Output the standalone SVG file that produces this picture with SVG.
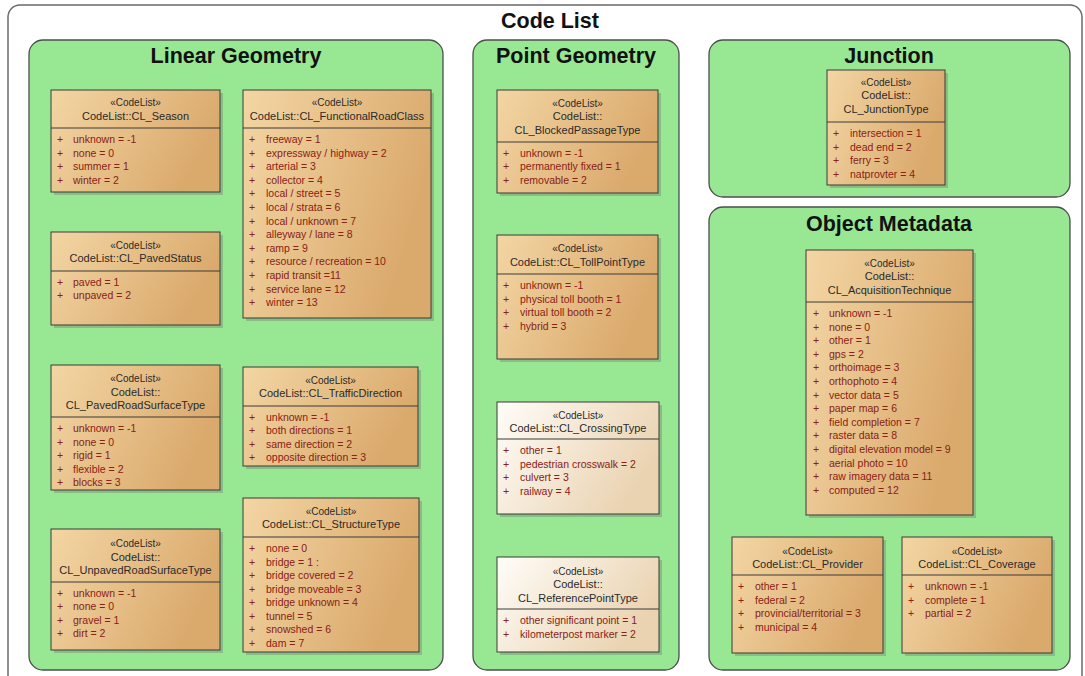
<svg xmlns="http://www.w3.org/2000/svg" width="1085" height="676" viewBox="0 0 1085 676">
<defs>
<linearGradient id="tan" x1="0" y1="0" x2="1" y2="0.35">
<stop offset="0" stop-color="#f3d6a4"/>
<stop offset="1" stop-color="#daa96c"/>
</linearGradient>
<linearGradient id="cream" x1="0" y1="0" x2="1" y2="0.45">
<stop offset="0" stop-color="#fffdf9"/>
<stop offset="1" stop-color="#ead3b1"/>
</linearGradient>
<style>
.frame{fill:#ffffff;stroke:#6a6a6a;stroke-width:1.5}
.panel{fill:#98e893;stroke:#4d4d4d;stroke-width:1.3}
.title{font-family:"Liberation Sans",Arial,sans-serif;font-weight:bold;font-size:21.5px;fill:#111;text-anchor:middle}
.shadow{fill:#6d6d6d;opacity:0.35}
.box{fill:url(#tan);stroke:#3a3a3a;stroke-width:1}
.cbox{fill:url(#cream);stroke:#3a3a3a;stroke-width:1}
.sep{stroke:#3a3a3a;stroke-width:1}
.st{font-family:"Liberation Sans",Arial,sans-serif;font-size:10px;fill:#2a2a2a;text-anchor:middle}
.nm{font-family:"Liberation Sans",Arial,sans-serif;font-size:11px;fill:#2a2a2a;text-anchor:middle}
.at{font-family:"Liberation Sans",Arial,sans-serif;font-size:10.5px;fill:#8a2016}
</style>
</defs>
<rect class="frame" x="8" y="5" width="1074" height="700" rx="12"/>
<text class="title" x="550" y="28">Code List</text>

<g id="panel-linear"><rect class="panel" x="29" y="40" width="414" height="630" rx="14"/><text class="title" x="236" y="63">Linear Geometry</text></g>
<g id="panel-point"><rect class="panel" x="473" y="40" width="206" height="630" rx="14"/><text class="title" x="576" y="63">Point Geometry</text></g>
<g id="panel-junction"><rect class="panel" x="709" y="40" width="361" height="157" rx="14"/><text class="title" x="889" y="63">Junction</text></g>
<g id="panel-metadata"><rect class="panel" x="709" y="207" width="361" height="463" rx="14"/><text class="title" x="889" y="231">Object Metadata</text></g>

<g id="connectors"/>

<g id="cl-season">
<rect class="shadow" x="54" y="93" width="169" height="102"/>
<rect class="box" x="51" y="90" width="169" height="102"/>
<line class="sep" x1="51" y1="128" x2="220" y2="128"/>
<text class="st" x="135.5" y="106">«CodeList»</text>
<text class="nm" x="135.5" y="120">CodeList::CL_Season</text>
<text class="at" y="143"><tspan x="57">+</tspan><tspan x="73">unknown = -1</tspan></text>
<text class="at" y="156.5"><tspan x="57">+</tspan><tspan x="73">none = 0</tspan></text>
<text class="at" y="170"><tspan x="57">+</tspan><tspan x="73">summer = 1</tspan></text>
<text class="at" y="183.5"><tspan x="57">+</tspan><tspan x="73">winter = 2</tspan></text>
</g>

<g id="cl-functionalroadclass">
<rect class="shadow" x="246" y="93" width="188" height="228"/>
<rect class="box" x="243" y="90" width="188" height="228"/>
<line class="sep" x1="243" y1="128" x2="431" y2="128"/>
<text class="st" x="337" y="106">«CodeList»</text>
<text class="nm" x="337" y="120">CodeList::CL_FunctionalRoadClass</text>
<text class="at" y="143"><tspan x="249">+</tspan><tspan x="266">freeway = 1</tspan></text>
<text class="at" y="156.6"><tspan x="249">+</tspan><tspan x="266">expressway / highway = 2</tspan></text>
<text class="at" y="170.2"><tspan x="249">+</tspan><tspan x="266">arterial = 3</tspan></text>
<text class="at" y="183.8"><tspan x="249">+</tspan><tspan x="266">collector = 4</tspan></text>
<text class="at" y="197.4"><tspan x="249">+</tspan><tspan x="266">local / street  = 5</tspan></text>
<text class="at" y="211"><tspan x="249">+</tspan><tspan x="266">local / strata = 6</tspan></text>
<text class="at" y="224.6"><tspan x="249">+</tspan><tspan x="266">local / unknown = 7</tspan></text>
<text class="at" y="238.2"><tspan x="249">+</tspan><tspan x="266">alleyway / lane = 8</tspan></text>
<text class="at" y="251.8"><tspan x="249">+</tspan><tspan x="266">ramp = 9</tspan></text>
<text class="at" y="265.4"><tspan x="249">+</tspan><tspan x="266">resource / recreation = 10</tspan></text>
<text class="at" y="279"><tspan x="249">+</tspan><tspan x="266">rapid transit =11</tspan></text>
<text class="at" y="292.6"><tspan x="249">+</tspan><tspan x="266">service lane = 12</tspan></text>
<text class="at" y="306.2"><tspan x="249">+</tspan><tspan x="266">winter = 13</tspan></text>
</g>

<g id="cl-pavedstatus">
<rect class="shadow" x="54" y="235" width="169" height="93"/>
<rect class="box" x="51" y="232" width="169" height="93"/>
<line class="sep" x1="51" y1="271" x2="220" y2="271"/>
<text class="st" x="135.5" y="249">«CodeList»</text>
<text class="nm" x="135.5" y="262">CodeList::CL_PavedStatus</text>
<text class="at" y="285.5"><tspan x="57">+</tspan><tspan x="73">paved = 1</tspan></text>
<text class="at" y="299"><tspan x="57">+</tspan><tspan x="73">unpaved = 2</tspan></text>
</g>

<g id="cl-pavedroadsurfacetype">
<rect class="shadow" x="54" y="368" width="169" height="125"/>
<rect class="box" x="51" y="365" width="169" height="125"/>
<line class="sep" x1="51" y1="417" x2="220" y2="417"/>
<text class="st" x="135.5" y="382">«CodeList»</text>
<text class="nm" x="135.5" y="395.5">CodeList::</text>
<text class="nm" x="135.5" y="409">CL_PavedRoadSurfaceType</text>
<text class="at" y="432"><tspan x="57">+</tspan><tspan x="73">unknown = -1</tspan></text>
<text class="at" y="445.5"><tspan x="57">+</tspan><tspan x="73">none = 0</tspan></text>
<text class="at" y="459"><tspan x="57">+</tspan><tspan x="73">rigid = 1</tspan></text>
<text class="at" y="472.5"><tspan x="57">+</tspan><tspan x="73">flexible = 2</tspan></text>
<text class="at" y="486"><tspan x="57">+</tspan><tspan x="73">blocks = 3</tspan></text>
</g>

<g id="cl-unpavedroadsurfacetype">
<rect class="shadow" x="54" y="532" width="169" height="121"/>
<rect class="box" x="51" y="529" width="169" height="121"/>
<line class="sep" x1="51" y1="582" x2="220" y2="582"/>
<text class="st" x="135.5" y="547">«CodeList»</text>
<text class="nm" x="135.5" y="560.5">CodeList::</text>
<text class="nm" x="135.5" y="574">CL_UnpavedRoadSurfaceType</text>
<text class="at" y="596.5"><tspan x="57">+</tspan><tspan x="73">unknown = -1</tspan></text>
<text class="at" y="610"><tspan x="57">+</tspan><tspan x="73">none = 0</tspan></text>
<text class="at" y="623.5"><tspan x="57">+</tspan><tspan x="73">gravel = 1</tspan></text>
<text class="at" y="637"><tspan x="57">+</tspan><tspan x="73">dirt = 2</tspan></text>
</g>

<g id="cl-trafficdirection">
<rect class="shadow" x="246" y="370" width="175" height="99"/>
<rect class="box" x="243" y="367" width="175" height="99"/>
<line class="sep" x1="243" y1="406" x2="418" y2="406"/>
<text class="st" x="330.5" y="384">«CodeList»</text>
<text class="nm" x="330.5" y="397">CodeList::CL_TrafficDirection</text>
<text class="at" y="420.5"><tspan x="249">+</tspan><tspan x="266">unknown = -1</tspan></text>
<text class="at" y="434"><tspan x="249">+</tspan><tspan x="266">both directions = 1</tspan></text>
<text class="at" y="447.5"><tspan x="249">+</tspan><tspan x="266">same direction = 2</tspan></text>
<text class="at" y="461"><tspan x="249">+</tspan><tspan x="266">opposite direction = 3</tspan></text>
</g>

<g id="cl-structuretype">
<rect class="shadow" x="246" y="501" width="176" height="154"/>
<rect class="box" x="243" y="498" width="176" height="154"/>
<line class="sep" x1="243" y1="537" x2="419" y2="537"/>
<text class="st" x="331" y="515">«CodeList»</text>
<text class="nm" x="331" y="528">CodeList::CL_StructureType</text>
<text class="at" y="552"><tspan x="249">+</tspan><tspan x="266">none = 0</tspan></text>
<text class="at" y="565.5"><tspan x="249">+</tspan><tspan x="266">bridge = 1  :</tspan></text>
<text class="at" y="579"><tspan x="249">+</tspan><tspan x="266">bridge covered = 2</tspan></text>
<text class="at" y="592.5"><tspan x="249">+</tspan><tspan x="266">bridge moveable = 3</tspan></text>
<text class="at" y="606"><tspan x="249">+</tspan><tspan x="266">bridge unknown = 4</tspan></text>
<text class="at" y="619.5"><tspan x="249">+</tspan><tspan x="266">tunnel = 5</tspan></text>
<text class="at" y="633"><tspan x="249">+</tspan><tspan x="266">snowshed = 6</tspan></text>
<text class="at" y="646.5"><tspan x="249">+</tspan><tspan x="266">dam = 7</tspan></text>
</g>

<g id="cl-blockedpassagetype">
<rect class="shadow" x="500" y="93" width="161" height="103"/>
<rect class="box" x="497" y="90" width="161" height="103"/>
<line class="sep" x1="497" y1="142" x2="658" y2="142"/>
<text class="st" x="577.5" y="106.5">«CodeList»</text>
<text class="nm" x="577.5" y="120">CodeList::</text>
<text class="nm" x="577.5" y="133.5">CL_BlockedPassageType</text>
<text class="at" y="156.5"><tspan x="503">+</tspan><tspan x="520">unknown = -1</tspan></text>
<text class="at" y="170"><tspan x="503">+</tspan><tspan x="520">permanently fixed = 1</tspan></text>
<text class="at" y="183.5"><tspan x="503">+</tspan><tspan x="520">removable = 2</tspan></text>
</g>

<g id="cl-tollpointtype">
<rect class="shadow" x="500" y="238" width="161" height="124"/>
<rect class="box" x="497" y="235" width="161" height="124"/>
<line class="sep" x1="497" y1="274" x2="658" y2="274"/>
<text class="st" x="577.5" y="251.5">«CodeList»</text>
<text class="nm" x="577.5" y="265.5">CodeList::CL_TollPointType</text>
<text class="at" y="289"><tspan x="503">+</tspan><tspan x="520">unknown = -1</tspan></text>
<text class="at" y="302.5"><tspan x="503">+</tspan><tspan x="520">physical toll booth = 1</tspan></text>
<text class="at" y="316"><tspan x="503">+</tspan><tspan x="520">virtual toll booth = 2</tspan></text>
<text class="at" y="329.5"><tspan x="503">+</tspan><tspan x="520">hybrid = 3</tspan></text>
</g>

<g id="cl-crossingtype">
<rect class="shadow" x="500" y="405" width="162" height="112"/>
<rect class="cbox" x="497" y="402" width="162" height="112"/>
<line class="sep" x1="497" y1="439" x2="659" y2="439"/>
<text class="st" x="578" y="418.5">«CodeList»</text>
<text class="nm" x="578" y="431.5">CodeList::CL_CrossingType</text>
<text class="at" y="454"><tspan x="503">+</tspan><tspan x="520">other = 1</tspan></text>
<text class="at" y="467.5"><tspan x="503">+</tspan><tspan x="520">pedestrian crosswalk = 2</tspan></text>
<text class="at" y="481"><tspan x="503">+</tspan><tspan x="520">culvert = 3</tspan></text>
<text class="at" y="494.5"><tspan x="503">+</tspan><tspan x="520">railway = 4</tspan></text>
</g>

<g id="cl-referencepointtype">
<rect class="shadow" x="500" y="560" width="162" height="95"/>
<rect class="cbox" x="497" y="557" width="162" height="95"/>
<line class="sep" x1="497" y1="609" x2="659" y2="609"/>
<text class="st" x="578" y="574.5">«CodeList»</text>
<text class="nm" x="578" y="588">CodeList::</text>
<text class="nm" x="578" y="601.5">CL_ReferencePointType</text>
<text class="at" y="624"><tspan x="503">+</tspan><tspan x="520">other significant point = 1</tspan></text>
<text class="at" y="637.5"><tspan x="503">+</tspan><tspan x="520">kilometerpost marker = 2</tspan></text>
</g>

<g id="cl-junctiontype">
<rect class="shadow" x="830" y="73" width="118" height="115"/>
<rect class="box" x="827" y="70" width="118" height="115"/>
<line class="sep" x1="827" y1="122" x2="945" y2="122"/>
<text class="st" x="886" y="85.5">«CodeList»</text>
<text class="nm" x="886" y="99">CodeList::</text>
<text class="nm" x="886" y="112.5">CL_JunctionType</text>
<text class="at" y="137"><tspan x="833">+</tspan><tspan x="850">intersection = 1</tspan></text>
<text class="at" y="150.5"><tspan x="833">+</tspan><tspan x="850">dead end = 2</tspan></text>
<text class="at" y="164"><tspan x="833">+</tspan><tspan x="850">ferry = 3</tspan></text>
<text class="at" y="177.5"><tspan x="833">+</tspan><tspan x="850">natprovter = 4</tspan></text>
</g>

<g id="cl-acquisitiontechnique">
<rect class="shadow" x="809" y="253" width="167" height="265"/>
<rect class="box" x="806" y="250" width="167" height="265"/>
<line class="sep" x1="806" y1="302" x2="973" y2="302"/>
<text class="st" x="889.5" y="266.5">«CodeList»</text>
<text class="nm" x="889.5" y="280">CodeList::</text>
<text class="nm" x="889.5" y="293.5">CL_AcquisitionTechnique</text>
<text class="at" y="317"><tspan x="813">+</tspan><tspan x="829">unknown = -1</tspan></text>
<text class="at" y="330.6"><tspan x="813">+</tspan><tspan x="829">none = 0</tspan></text>
<text class="at" y="344.2"><tspan x="813">+</tspan><tspan x="829">other = 1</tspan></text>
<text class="at" y="357.8"><tspan x="813">+</tspan><tspan x="829">gps = 2</tspan></text>
<text class="at" y="371.4"><tspan x="813">+</tspan><tspan x="829">orthoimage = 3</tspan></text>
<text class="at" y="385"><tspan x="813">+</tspan><tspan x="829">orthophoto = 4</tspan></text>
<text class="at" y="398.6"><tspan x="813">+</tspan><tspan x="829">vector data = 5</tspan></text>
<text class="at" y="412.2"><tspan x="813">+</tspan><tspan x="829">paper map = 6</tspan></text>
<text class="at" y="425.8"><tspan x="813">+</tspan><tspan x="829">field completion = 7</tspan></text>
<text class="at" y="439.4"><tspan x="813">+</tspan><tspan x="829">raster data = 8</tspan></text>
<text class="at" y="453"><tspan x="813">+</tspan><tspan x="829">digital elevation model = 9</tspan></text>
<text class="at" y="466.6"><tspan x="813">+</tspan><tspan x="829">aerial photo = 10</tspan></text>
<text class="at" y="480.2"><tspan x="813">+</tspan><tspan x="829">raw imagery data = 11</tspan></text>
<text class="at" y="493.8"><tspan x="813">+</tspan><tspan x="829">computed = 12</tspan></text>
</g>

<g id="cl-provider">
<rect class="shadow" x="735" y="540" width="151" height="116"/>
<rect class="box" x="732" y="537" width="151" height="116"/>
<line class="sep" x1="732" y1="575" x2="883" y2="575"/>
<text class="st" x="807.5" y="554.5">«CodeList»</text>
<text class="nm" x="807.5" y="568">CodeList::CL_Provider</text>
<text class="at" y="590"><tspan x="738">+</tspan><tspan x="755">other = 1</tspan></text>
<text class="at" y="603.5"><tspan x="738">+</tspan><tspan x="755">federal = 2</tspan></text>
<text class="at" y="617"><tspan x="738">+</tspan><tspan x="755">provincial/territorial = 3</tspan></text>
<text class="at" y="630.5"><tspan x="738">+</tspan><tspan x="755">municipal = 4</tspan></text>
</g>

<g id="cl-coverage">
<rect class="shadow" x="905" y="540" width="150" height="116"/>
<rect class="box" x="902" y="537" width="150" height="116"/>
<line class="sep" x1="902" y1="575" x2="1052" y2="575"/>
<text class="st" x="977" y="554.5">«CodeList»</text>
<text class="nm" x="977" y="568">CodeList::CL_Coverage</text>
<text class="at" y="590"><tspan x="908">+</tspan><tspan x="925">unknown = -1</tspan></text>
<text class="at" y="603.5"><tspan x="908">+</tspan><tspan x="925">complete = 1</tspan></text>
<text class="at" y="617"><tspan x="908">+</tspan><tspan x="925">partial = 2</tspan></text>
</g>
</svg>
